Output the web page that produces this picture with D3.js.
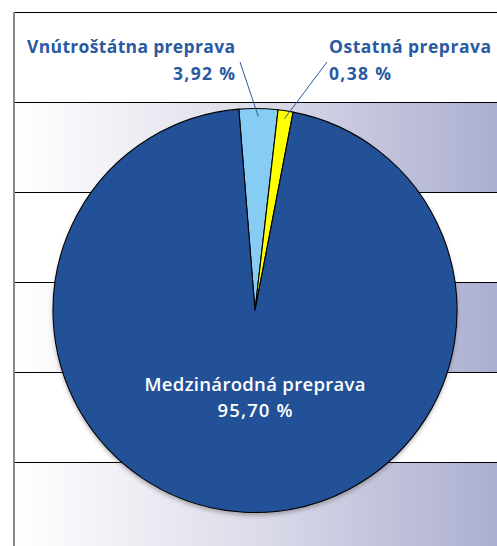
<!DOCTYPE html>
<html>
<head>
<meta charset="utf-8">
<script src="https://cdn.jsdelivr.net/npm/d3@7"></script>
<style>
html,body{margin:0;padding:0;background:#fff;}
svg{display:block;}
</style>
</head>
<body>
<svg id="chart" width="497" height="546"></svg>
<script>
// Data
const categories = ["Vnútroštátna preprava", "Ostatná preprava", "Medzinárodná preprava"];
const percentLabels = ["3,92 %", "0,38 %", "95,70 %"];
const sliceValues = [3.1, 1.2, 95.7]; // slice shares as drawn in the picture
const sliceColors = ["#87cdf3", "#ffff00", "#235197"];

(function () {
const W = 497, H = 546;
const svg = d3.select("#chart");

const defs = svg.append("defs");
const grad = defs.append("linearGradient").attr("id", "bg").attr("x1", "0").attr("x2", "1").attr("y1", "0").attr("y2", "0");
grad.append("stop").attr("offset", "0").attr("stop-color", "#ffffff");
grad.append("stop").attr("offset", "0.5").attr("stop-color", "#dcdcea");
grad.append("stop").attr("offset", "1").attr("stop-color", "#abaed0");

const shadow = defs.append("filter").attr("id", "sh").attr("x", "-10%").attr("y", "-10%").attr("width", "120%").attr("height", "120%");
shadow.append("feGaussianBlur").attr("stdDeviation", 2);

const plotLeft = 14, plotTop = 12;
const bandH = 90;
const nBands = 6;
const yBand = d3.scaleLinear().domain([0, nBands]).range([plotTop, plotTop + nBands * bandH]);

for (let i = 0; i < nBands; i++) {
  svg.append("rect")
    .attr("x", plotLeft).attr("y", yBand(i))
    .attr("width", W - plotLeft).attr("height", bandH)
    .attr("fill", i % 2 === 1 ? "url(#bg)" : "#ffffff");
}
for (let i = 0; i < nBands; i++) {
  svg.append("line")
    .attr("x1", plotLeft).attr("x2", W)
    .attr("y1", yBand(i) + 0.5).attr("y2", yBand(i) + 0.5)
    .attr("stroke", "#000").attr("stroke-width", 1.2);
}
svg.append("line").attr("x1", plotLeft).attr("x2", plotLeft).attr("y1", plotTop).attr("y2", H)
  .attr("stroke", "#888").attr("stroke-width", 2);

// pie
const cx = 255, cy = 310.5, R = 202;
const startDeg = -4.6;
const pie = d3.pie().sort(null).value(d => d)
  .startAngle(startDeg * Math.PI / 180)
  .endAngle((startDeg + 360) * Math.PI / 180);
const arcs = pie(sliceValues);
const arc = d3.arc().innerRadius(0).outerRadius(R);

const g = svg.append("g").attr("transform", `translate(${cx},${cy})`);
g.append("circle").attr("cx", 0).attr("cy", 3).attr("r", R).attr("fill", "#555").attr("opacity", 0.45).attr("filter", "url(#sh)");
g.selectAll("path.slice").data(arcs).join("path")
  .attr("class", "slice")
  .attr("d", arc)
  .attr("fill", (d, i) => sliceColors[i])
  .attr("stroke", "#000").attr("stroke-width", 1.1).attr("stroke-linejoin", "round");

// labels
const font = "'Open Sans', Lato, sans-serif";
const labelColor = "#2a5aa2";

const inner = d3.arc().innerRadius(R - 8).outerRadius(R - 8);
const leaderStarts = [[240, 62], [327, 62]];
[0, 1].forEach(i => {
  const p = inner.centroid(arcs[i]);
  svg.append("line")
    .attr("x1", leaderStarts[i][0]).attr("y1", leaderStarts[i][1])
    .attr("x2", cx + p[0]).attr("y2", cy + p[1])
    .attr("stroke", labelColor).attr("stroke-width", 1);
});

const outLabel = [
  {x: 235, anchor: "end", w1: 208, w2: 62},
  {x: 329, anchor: "start", w1: 162, w2: 62}
];
[0, 1].forEach(i => {
  const o = outLabel[i];
  const mk = (txt, y, w) => svg.append("text")
    .attr("x", o.x).attr("y", y).attr("text-anchor", o.anchor)
    .attr("font-family", font).attr("font-weight", "bold").attr("font-size", 17.5)
    .attr("fill", labelColor)
    .attr("textLength", w).attr("lengthAdjust", "spacing")
    .text(txt);
  mk(categories[i], 53, o.w1);
  mk(percentLabels[i], 80, o.w2);
});

const mkIn = (txt, y, w) => svg.append("text")
  .attr("x", 255).attr("y", y).attr("text-anchor", "middle")
  .attr("font-family", font).attr("font-weight", "600").attr("font-size", 18.5)
  .attr("fill", "#ffffff")
  .attr("textLength", w).attr("lengthAdjust", "spacing")
  .text(txt);
mkIn(categories[2], 391, 221);
mkIn(percentLabels[2], 417, 75);
})();
</script>
</body>
</html>
